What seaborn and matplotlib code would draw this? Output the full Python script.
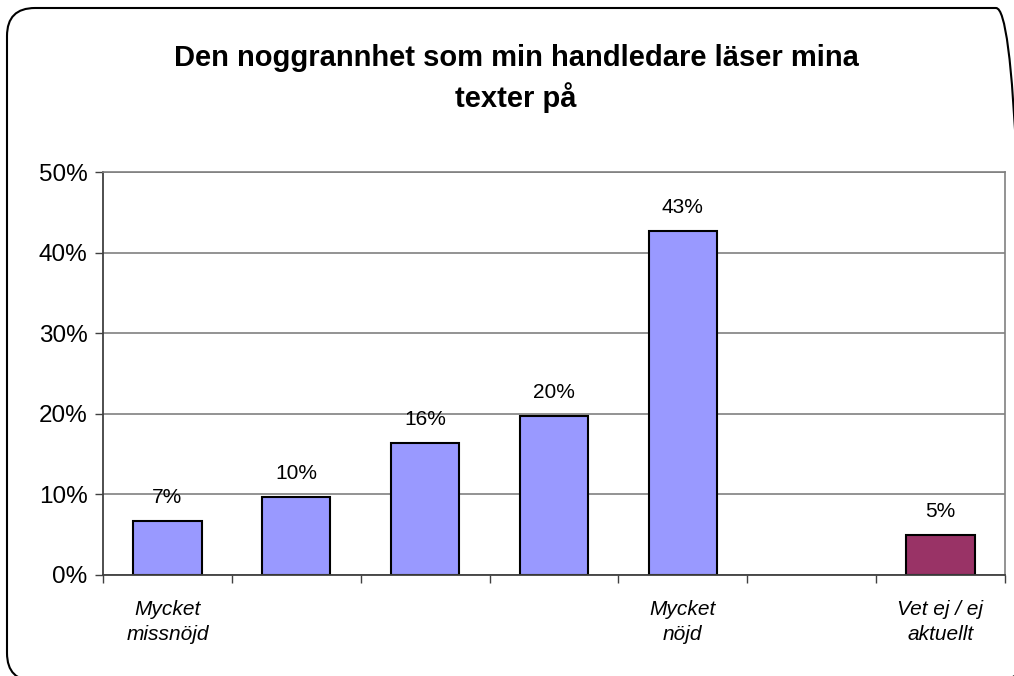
import pandas as pd
import matplotlib.pyplot as plt
import seaborn as sns
from matplotlib.patches import FancyBboxPatch
from matplotlib.ticker import FixedLocator

categories = ["c1", "c2", "c3", "c4", "c5", "c6", "c7"]
tick_labels = ["Mycket\nmissnöjd", "", "", "", "Mycket\nnöjd", "", "Vet ej / ej\naktuellt"]
# c6 has no answer in the source chart (empty slot)
bar_cats = ["c1", "c2", "c3", "c4", "c5", "c7"]
values = [6.7, 9.7, 16.4, 19.7, 42.7, 4.9]
colors = {"c1": "#9999FF", "c2": "#9999FF", "c3": "#9999FF", "c4": "#9999FF",
          "c5": "#9999FF", "c7": "#993366"}
title = "Den noggrannhet som min handledare läser mina\ntexter på"

sns.set_theme(style="white")
plt.rcParams["font.family"] = ["Liberation Sans", "DejaVu Sans"]
plt.rcParams["text.color"] = "black"
plt.rcParams["xtick.color"] = "black"
plt.rcParams["ytick.color"] = "black"

df = pd.DataFrame({"cat": bar_cats, "pct": values})

fig = plt.figure(figsize=(10.14, 6.76), dpi=100)
ax = fig.add_axes([0.1016, 0.150, 0.8894, 0.595])

sns.barplot(data=df, x="cat", y="pct", hue="cat", order=categories,
            palette=colors, legend=False, width=0.53, saturation=1,
            edgecolor="black", linewidth=1.5, ax=ax)

for c in ax.containers:
    ax.bar_label(c, labels=[f"{v:.0f}%" for v in c.datavalues],
                 padding=10, fontsize=15, color="black")

ax.set_ylim(0, 50)
ax.set_xlim(-0.5, 6.5)
ax.set_yticks([0, 10, 20, 30, 40, 50])
ax.set_yticklabels([f"{t}%" for t in [0, 10, 20, 30, 40, 50]], fontsize=17.5)
ax.yaxis.grid(True, color="#808080", linewidth=1.2)
ax.set_axisbelow(True)
ax.tick_params(axis="y", left=True, length=6, width=1, color="#404040", pad=5)

ax.set_xticks(range(len(categories)))
ax.set_xticklabels(tick_labels, fontsize=15, style="italic", linespacing=1.45)
ax.tick_params(axis="x", which="major", length=0, pad=18)
ax.xaxis.set_minor_locator(FixedLocator([i - 0.5 for i in range(len(categories) + 1)]))
ax.tick_params(axis="x", which="minor", bottom=True, length=6, width=1, color="#404040")
ax.set_xlabel("")
ax.set_ylabel("")

for side in ["left", "bottom"]:
    ax.spines[side].set_color("#404040")
    ax.spines[side].set_linewidth(1.3)
for side in ["right", "top"]:
    ax.spines[side].set_color("#808080")
    ax.spines[side].set_linewidth(1.2)

fig.text(0.509, 0.884, title, ha="center", va="center", fontsize=21,
         fontweight="bold", linespacing=1.4)

# rounded chart-area border, partly running off the right and bottom edges
border = FancyBboxPatch((0.07, 6.76 - 6.81), 10.17, 6.73,
                        boxstyle="round,pad=0,rounding_size=0.28",
                        transform=fig.dpi_scale_trans, fill=False,
                        edgecolor="black", linewidth=1.5)
fig.patches.append(border)

fig.savefig("out.png", dpi=100)
